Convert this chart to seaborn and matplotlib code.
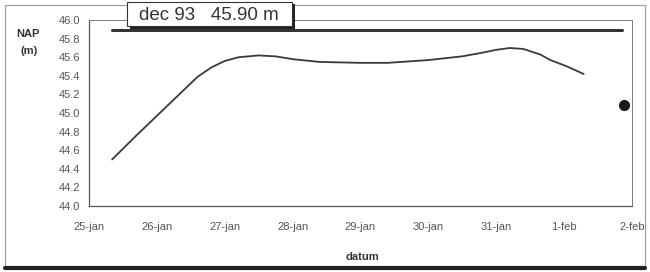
import numpy as np
import pandas as pd
import matplotlib
matplotlib.use("Agg")
import matplotlib.pyplot as plt
import seaborn as sns
from matplotlib.patches import Rectangle

## Data: days since 25-jan and water level in m NAP
dag = [0.34, 0.7, 1.0, 1.3, 1.6, 1.8, 2.0, 2.2, 2.5, 2.75, 3.0, 3.4, 4.0, 4.4, 5.0,
       5.5, 5.8, 6.0, 6.2, 6.4, 6.65, 6.8, 7.05, 7.29]
peil = [44.50, 44.76, 44.97, 45.18, 45.39, 45.49, 45.56, 45.60, 45.62, 45.61, 45.58,
        45.55, 45.54, 45.54, 45.57, 45.61, 45.65, 45.68, 45.70, 45.69, 45.63, 45.57,
        45.50, 45.42]

ref_dag = [0.34, 7.85]
ref_peil = [45.89, 45.89]

punt_dag = [7.88]
punt_peil = [45.09]

x_labels = ['25-jan', '26-jan', '27-jan', '28-jan', '29-jan', '30-jan', '31-jan', '1-feb', '2-feb']
y_ticks = [44.0 + 0.2 * i for i in range(11)]

sns.set_style('white')
plt.rcParams['font.family'] = ['Liberation Sans', 'DejaVu Sans']

fig = plt.figure(figsize=(6.5, 2.72), dpi=100)
ax = fig.add_axes([0.137, 0.243, 0.835, 0.683])

df = pd.DataFrame({'dag': dag, 'peil': peil})
sns.lineplot(data=df, x='dag', y='peil', ax=ax, color='#3a3a3a', lw=1.3)
ax.plot(ref_dag, ref_peil, color='#333333', lw=2.2)
ax.plot(punt_dag, punt_peil, 'o', color='#1a1a1a', ms=7)

ax.set_xlim(0, 8)
ax.set_ylim(44.0, 46.0)
ax.set_xticks(range(len(x_labels)))
ax.set_xticklabels(x_labels)
ax.set_yticks(y_ticks)
ax.set_yticklabels(['%.1f' % v for v in y_ticks])
ax.tick_params(axis='both', direction='inout', length=5, width=0.8, color='#555555',
               labelsize=8, labelcolor='#555555', pad=4)
ax.tick_params(axis='x', pad=9)
ax.set_xlabel('')
ax.set_ylabel('')

for side in ['left', 'bottom']:
    ax.spines[side].set_color('#555555')
    ax.spines[side].set_linewidth(0.9)
for side in ['top', 'right']:
    ax.spines[side].set_color('#777777')
    ax.spines[side].set_linewidth(0.7)

## labels
fig.text(0.043, 0.865, 'NAP', fontsize=8, fontweight='bold', color='#333333', ha='center')
fig.text(0.045, 0.80, '(m)', fontsize=8, fontweight='bold', color='#333333', ha='center')
fig.text(0.558, 0.045, 'datum', fontsize=8, fontweight='bold', color='#333333', ha='center')

## label box with shadow
fig.patches.append(Rectangle((0.200, 0.895), 0.254, 0.092, transform=fig.transFigure,
                             facecolor='#222222', edgecolor='none', zorder=5))
fig.patches.append(Rectangle((0.196, 0.903), 0.253, 0.088, transform=fig.transFigure,
                             facecolor='white', edgecolor='#333333', lw=0.8, zorder=6))
fig.text(0.322, 0.943, 'dec 93   45.90 m', fontsize=13.5, color='#333333',
         ha='center', va='center', zorder=7)

## outer frame
fig.patches.append(Rectangle((0.008, 0.015), 0.984, 0.965, transform=fig.transFigure,
                             facecolor='none', edgecolor='#999999', lw=0.8, zorder=1))
fig.lines.append(plt.Line2D([0.008, 0.992], [0.015, 0.015], transform=fig.transFigure,
                            color='#222222', lw=3))

fig.savefig('out.png', dpi=100)
